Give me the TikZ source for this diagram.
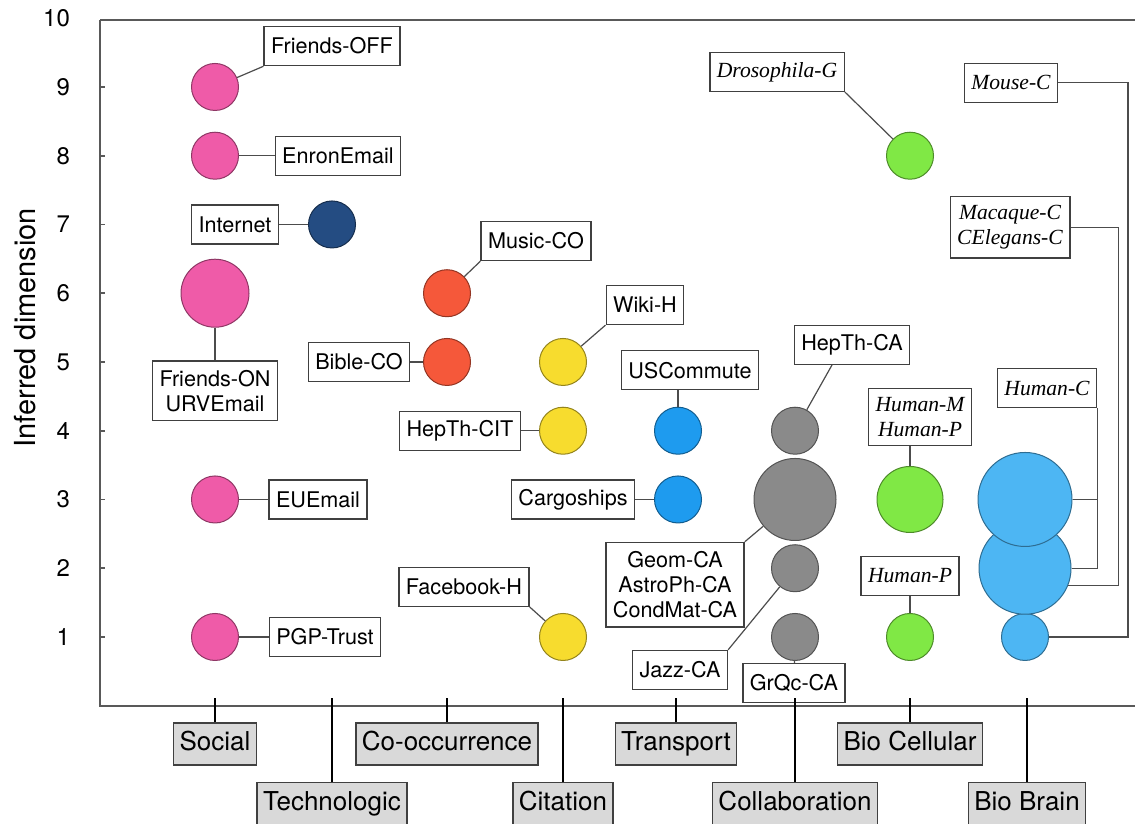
\documentclass[tikz,border=0pt]{standalone}
\usepackage{fontspec}
\setmainfont{TeX Gyre Heros}
\newfontfamily\biofont{Liberation Serif}
\usetikzlibrary{calc}
\usetikzlibrary{positioning}
\definecolor{socialcol}{HTML}{EF5BA8}
\definecolor{technocol}{HTML}{244C82}
\definecolor{coocccol}{HTML}{F5583A}
\definecolor{citecol}{HTML}{F7DC2E}
\definecolor{transcol}{HTML}{1E9BEF}
\definecolor{collabcol}{HTML}{8A8A8A}
\definecolor{cellcol}{HTML}{80E845}
\definecolor{braincol}{HTML}{4DB6F3}
\definecolor{fieldfill}{HTML}{D9D9D9}
\tikzset{
	bubble/.style={
		circle,
		inner sep=0pt,
		minimum size=23.5pt,
		draw=#1!60!black, line width=0.5pt,
		fill=#1},
	tag/.style={
		rectangle,
		draw=black!75, line width=0.7pt,
		fill=white,
		inner xsep=3.5pt, inner ysep=4.5pt,
		minimum height=19.5pt,
		align=center},
	biotag/.style={
		tag,
		font=\biofont\itshape\fontsize{10.8}{12.5}\selectfont},
	field/.style={
		rectangle,
		draw=black!75, line width=0.7pt,
		fill=fieldfill,
		inner xsep=3pt, inner ysep=0pt,
		text height=9.6pt, text depth=2.8pt,
		minimum height=21pt,
		font=\fontsize{13}{15}\selectfont},
	link/.style={draw=black!70, line width=0.6pt},
	fieldline/.style={draw=black, line width=1pt},
	axis/.style={draw=black!65, line width=0.9pt},
}
\begin{document}
\begin{tikzpicture}
	[x=0.5pt, y=34.375pt,
	font=\fontsize{10.8}{12.5}\selectfont]
	\useasboundingbox (0,-1.72) rectangle (1135,10.265);
	% axes
	\draw[axis] (100,9.97) -- (1135,9.97);
	\draw[axis] (100,9.97) -- (100,0) -- (1135,0);
	\foreach \d in {1,...,9}
		\draw[axis] (100,\d) -- (105,\d);
	\foreach \d in {1,...,10}
		\node[anchor=east, font=\fontsize{12}{14}\selectfont] (tick\d) at (77,\d) {\d};
	\node[rotate=90, font=\fontsize{14.5}{16}\selectfont] (ylab) at (25,5.5) {Inferred dimension};

	% bubbles
	\node[bubble=socialcol] (s9) at (215,9) {};
	\node[bubble=socialcol] (s8) at (215,8) {};
	\node[bubble=socialcol, minimum size=34pt] (s6) at (215,6) {};
	\node[bubble=socialcol] (s3) at (215,3) {};
	\node[bubble=socialcol] (s1) at (215,1) {};
	\node[bubble=technocol] (t7) at (332,7) {};
	\node[bubble=coocccol] (co6) at (447,6) {};
	\node[bubble=coocccol] (co5) at (447,5) {};
	\node[bubble=citecol] (ci5) at (563,5) {};
	\node[bubble=citecol] (ci4) at (563,4) {};
	\node[bubble=citecol] (ci1) at (563,1) {};
	\node[bubble=transcol] (tr4) at (678,4) {};
	\node[bubble=transcol] (tr3) at (678,3) {};
	\node[bubble=collabcol] (cb4) at (795,4) {};
	\node[bubble=collabcol, minimum size=41pt] (cb3) at (795,3) {};
	\node[bubble=collabcol] (cb2) at (795,2) {};
	\node[bubble=collabcol] (cb1) at (795,1) {};
	\node[bubble=cellcol] (bc8) at (910,8) {};
	\node[bubble=cellcol, minimum size=33pt] (bc3) at (910,3) {};
	\node[bubble=cellcol] (bc1) at (910,1) {};
	\node[bubble=braincol] (b1) at (1025,1) {};
	\node[bubble=braincol, minimum size=46pt] (b2) at (1025,2) {};
	\node[bubble=braincol, minimum size=47pt] (b3) at (1025,3) {};

	% labels
	\node[tag] (foff) at (332,9.595) {Friends-OFF};
	\node[tag] (enron) at (338,8) {EnronEmail};
	\node[tag] (inet) at (235,7) {Internet};
	\node[tag] (fon) at (215,4.58) {Friends-ON\\URVEmail};
	\node[tag] (eu) at (318,3) {EUEmail};
	\node[tag] (pgp) at (325,1) {PGP-Trust};
	\node[tag] (music) at (536,6.76) {Music-CO};
	\node[tag] (bible) at (359,5) {Bible-CO};
	\node[tag] (wiki) at (645,5.83) {Wiki-H};
	\node[tag] (hcit) at (460,4) {HepTh-CIT};
	\node[tag] (fb) at (464,1.73) {Facebook-H};
	\node[tag] (usc) at (690,4.88) {USCommute};
	\node[tag] (cargo) at (573,3) {Cargoships};
	\node[tag] (hca) at (852,5.25) {HepTh-CA};
	\node[tag] (geom) at (675,1.76) {Geom-CA\\AstroPh-CA\\CondMat-CA};
	\node[tag] (jazz) at (680,0.52) {Jazz-CA};
	\node[tag] (grqc) at (794,0.33) {GrQc-CA};
	\node[biotag] (dros) at (777,9.22) {Drosophila-G};
	\node[biotag] (hmp) at (920,4.2) {Human-M\\Human-P};
	\node[biotag] (hp) at (910,1.89) {Human-P};
	\node[biotag] (mouse) at (1011,9.06) {Mouse-C};
	\node[biotag] (mac) at (1010,6.96) {Macaque-C\\CElegans-C};
	\node[biotag] (humc) at (1047,4.62) {Human-C};

	% connectors
	\draw[link] (foff.south west) -- (s9);
	\draw[link] (s8) -- (enron);
	\draw[link] (inet) -- (t7);
	\draw[link] (s6) -- (fon);
	\draw[link] (s3) -- (eu);
	\draw[link] (s1) -- (pgp);
	\draw[link] (music.south west) -- (co6);
	\draw[link] (bible) -- (co5);
	\draw[link] (wiki.south west) -- (ci5);
	\draw[link] (hcit) -- (ci4);
	\draw[link] (fb.south east) -- (ci1);
	\draw[link] (usc.south -| tr4) -- (tr4);
	\draw[link] (cargo) -- (tr3);
	\draw[link] ($(hca.south)+(-20,0)$) -- (cb4);
	\draw[link] (geom.north east) -- (cb3);
	\draw[link] (jazz.north east) -- (cb2);
	\draw[link] (cb1) -- (grqc);
	\draw[link] (dros.south east) -- (bc8);
	\draw[link] (hmp.south -| bc3) -- (bc3);
	\draw[link] (hp) -- (bc1);
	\draw[link] (humc.south east) |- (b2.east);
	\draw[link] (b3.east) -- (b3.east -| humc.south east);
	\draw[link] (mac.east) -| ($(b2.-22)+(50,0)$) -- (b2.-22);
	\draw[link] (mouse.east) -| ($(b1.east)+(79,0)$) -- (b1.east);

	% fields
	\coordinate (axtop) at (0,0.11);
	\node[field] (social) at (215,-0.556) {Social};
	\node[field] (techno) at (332,-1.422) {Technologic};
	\node[field] (coocc) at (447,-0.556) {Co-occurrence};
	\node[field] (cite) at (563,-1.422) {Citation};
	\node[field] (trans) at (676,-0.556) {Transport};
	\node[field] (collab) at (795,-1.422) {Collaboration};
	\node[field] (cell) at (910,-0.556) {Bio Cellular};
	\node[field] (brain) at (1027,-1.422) {Bio Brain};
	\foreach \f in {social,techno,coocc,cite,trans,collab,cell,brain}
		\draw[fieldline] (\f.north) -- (\f.north |- axtop);
\end{tikzpicture}
\end{document}
